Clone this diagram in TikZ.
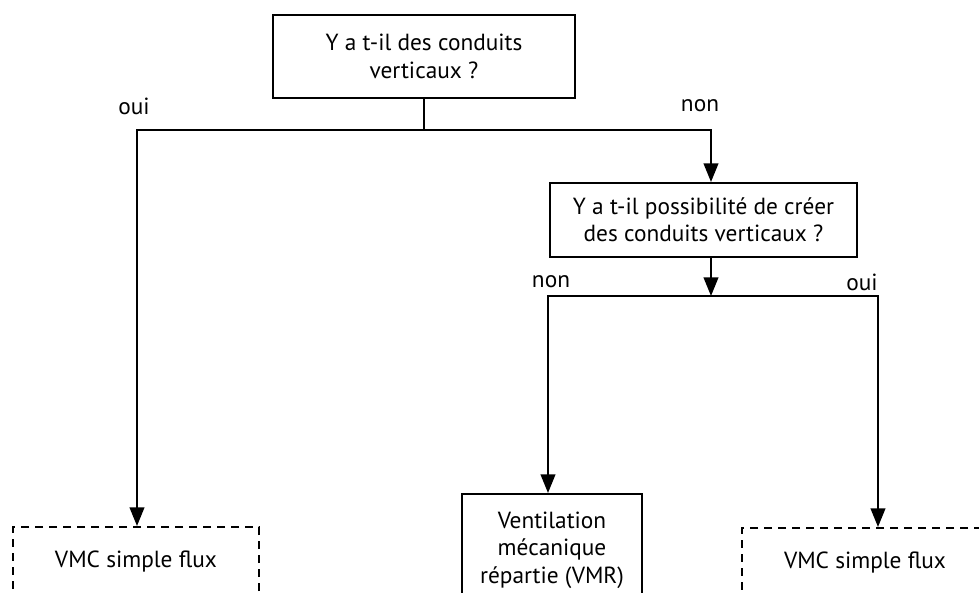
\documentclass[tikz,border=0pt]{standalone}
\usepackage{fontspec}
\setmainfont{PT Sans}
\usetikzlibrary{arrows.meta}

\begin{document}
\begin{tikzpicture}[x=0.75pt,y=-0.75pt,line width=1.5pt,
  >={Triangle[width=11pt,length=14pt]},
  qbox/.style={draw,rectangle,align=center,inner sep=0pt,font=\fontsize{17.5}{20.5}\selectfont},
  rbox/.style={qbox,dash pattern=on 6pt off 4.5pt},
  lbl/.style={font=\fontsize{17.5}{20.5}\selectfont,inner sep=0pt}]
\clip (0,0) rectangle (979,593);
% questions
\node[qbox,minimum width=226.5pt,minimum height=62.25pt] (q1) at (424,56.5) {Y a t-il des conduits\\ verticaux ?};
\node[qbox,minimum width=230.25pt,minimum height=55.5pt] (q2) at (703.5,220) {Y a t-il possibilité de créer\\ des conduits verticaux ?};
% answers
\node[rbox,minimum width=184.5pt,minimum height=52.5pt] (r1) at (136,562) {VMC simple flux};
\node[qbox,minimum width=135pt,minimum height=84pt] (r2) at (552,550) {Ventilation\\ mécanique\\ répartie (VMR)};
\node[rbox,minimum width=184.5pt,minimum height=52.5pt] (r3) at (865,563) {VMC simple flux};
% branch points
\coordinate (j1) at (424,130);
\coordinate (jl) at (137,130);
\coordinate (jr) at (711,130);
\coordinate (j2) at (711,296);
\coordinate (kl) at (548,296);
\coordinate (kr) at (878,296);
\draw (q1.south) -- (j1);
\draw[->] (j1) -- (jl) -- (jl |- r1.north);
\draw[->] (j1) -- (jr) -- (jr |- q2.north);
\draw[->] (jr |- q2.south) -- (j2);
\draw[->] (j2) -- (kl) -- (kl |- r2.north);
\draw[->] (j2) -- (kr) -- (kr |- r3.north);
% labels
\node[lbl] (oui1) at (134,106) {oui};
\node[lbl] (non1) at (700,106) {non};
\node[lbl] (non2) at (551,282) {non};
\node[lbl] (oui2) at (862,282) {oui};
\end{tikzpicture}
\end{document}
